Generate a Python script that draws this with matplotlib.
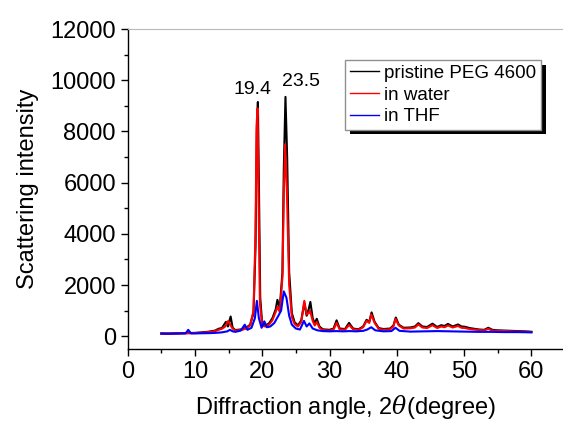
import matplotlib
matplotlib.use("Agg")
import matplotlib.pyplot as plt
from matplotlib.patches import Rectangle
from matplotlib.ticker import MultipleLocator

plt.rcParams["font.family"] = ["Liberation Sans", "DejaVu Sans"]
plt.rcParams["mathtext.fontset"] = "dejavuserif"

# pristine PEG 4600 (black)
angle_peg = [5.0, 6.0, 7.0, 8.0, 9.0, 10.0, 11.0, 12.0, 13.0, 13.5, 14.0, 14.6, 14.9, 15.3,
             15.6, 16.0, 17.0, 17.6, 18.2, 18.7, 19.0, 19.2, 19.35, 19.5, 19.7, 20.0, 20.5,
             21.0, 21.5, 22.0, 22.25, 22.6, 23.0, 23.2, 23.45, 23.7, 24.0, 24.4, 24.8, 25.3,
             25.8, 26.25, 26.6, 26.9, 27.15, 27.5, 27.8, 28.1, 28.5, 29.0, 30.0, 30.6, 31.05,
             31.5, 32.3, 32.9, 33.5, 34.3, 35.0, 35.5, 35.9, 36.25, 36.7, 37.3, 38.0, 39.0,
             39.5, 39.85, 40.3, 41.0, 42.0, 42.7, 43.2, 43.8, 44.5, 45.3, 46.0, 46.6, 47.1,
             47.6, 48.3, 49.1, 49.6, 50.1, 50.8, 51.5, 52.3, 53.0, 53.6, 54.2, 55.0, 56.0,
             57.0, 58.0, 59.0, 60.0]
int_peg = [110, 105, 115, 120, 125, 130, 150, 175, 220, 290, 320, 560, 380, 770,
           330, 240, 270, 330, 450, 900, 3500, 8000, 9150, 6000, 1500, 450, 420,
           500, 700, 1050, 1420, 1100, 2500, 6500, 9350, 7000, 2500, 900, 550, 420,
           620, 1300, 800, 1050, 1340, 700, 500, 680, 380, 270, 250, 300, 620,
           300, 280, 520, 300, 270, 380, 640, 560, 930, 560, 320, 280, 300,
           420, 730, 450, 330, 340, 380, 510, 380, 360, 490, 360, 430, 400,
           480, 380, 460, 380, 370, 320, 290, 260, 250, 330, 250, 230, 220,
           210, 200, 190, 175]

# in water (red)
angle_water = [5.0, 6.0, 7.0, 8.0, 9.0, 10.0, 11.0, 12.0, 13.0, 13.5, 14.0, 14.5, 14.95, 15.3,
               15.6, 16.0, 17.0, 17.6, 18.2, 18.7, 19.0, 19.15, 19.3, 19.45, 19.65, 20.0, 20.5,
               21.0, 21.5, 22.0, 22.25, 22.6, 23.0, 23.2, 23.4, 23.65, 24.0, 24.4, 24.8, 25.3,
               25.8, 26.25, 26.6, 26.9, 27.1, 27.5, 27.8, 28.1, 28.5, 29.0, 30.0, 30.6, 31.05,
               31.5, 32.3, 32.9, 33.5, 34.3, 35.0, 35.5, 35.9, 36.2, 36.7, 37.3, 38.0, 39.0,
               39.5, 39.8, 40.3, 41.0, 42.0, 42.7, 43.2, 43.8, 44.5, 45.3, 46.0, 46.6, 47.1,
               47.6, 48.3, 49.1, 49.6, 50.1, 50.8, 51.5, 52.3, 53.0, 53.6, 54.2, 55.0, 56.0,
               57.0, 58.0, 59.0, 60.0]
int_water = [100, 100, 105, 110, 115, 120, 135, 160, 200, 250, 290, 380, 600, 420,
             300, 220, 250, 300, 420, 1000, 4000, 8200, 8900, 5500, 1300, 400, 380,
             450, 620, 950, 1150, 950, 2300, 5500, 7500, 5800, 2000, 750, 480, 380,
             560, 1380, 850, 900, 1000, 600, 420, 560, 330, 240, 220, 260, 520,
             270, 250, 440, 270, 250, 350, 600, 520, 850, 520, 290, 250, 270,
             380, 680, 420, 300, 310, 340, 460, 340, 320, 430, 320, 380, 350,
             420, 340, 400, 330, 320, 280, 260, 240, 230, 290, 220, 210, 200,
             190, 180, 175, 160]

# in THF (blue)
angle_thf = [5.0, 6.0, 7.0, 8.0, 8.6, 9.0, 9.4, 10.0, 11.0, 12.0, 13.0, 14.0, 14.8, 15.2,
             15.6, 16.0, 16.8, 17.4, 17.8, 18.4, 18.9, 19.2, 19.5, 19.9, 20.3, 20.7, 21.2,
             21.8, 22.4, 22.8, 23.2, 23.6, 24.0, 24.4, 25.0, 25.6, 26.2, 26.6, 27.0, 27.5,
             28.2, 29.0, 30.0, 31.0, 32.0, 33.0, 34.0, 35.0, 35.6, 36.2, 36.8, 38.0, 39.2,
             39.8, 40.4, 42.0, 44.0, 46.0, 48.0, 50.0, 52.0, 54.0, 56.0, 58.0, 60.0]
int_thf = [100, 95, 100, 105, 110, 250, 110, 110, 115, 120, 130, 150, 190, 250,
           190, 170, 220, 450, 250, 330, 700, 1380, 700, 330, 580, 350, 380,
           520, 800, 1000, 1750, 1500, 800, 450, 300, 260, 600, 380, 500, 300,
           230, 200, 190, 200, 190, 200, 190, 210, 260, 350, 230, 190, 200,
           330, 210, 180, 190, 200, 190, 180, 170, 170, 160, 160, 150]

series = [
    (angle_peg, int_peg, "black", "pristine PEG 4600"),
    (angle_water, int_water, "#ff0000", "in water"),
    (angle_thf, int_thf, "#0000ff", "in THF"),
]

peak_labels = ["19.4", "23.5"]
peak_label_pos = [(18.5, 9650), (25.7, 9970)]


def main():
    fig = plt.figure(figsize=(5.63, 4.21), dpi=100)
    ax = fig.add_axes([0.2268, 0.171, 0.7732, 0.760])

    for x, y, c, lab in series:
        ax.plot(x, y, color=c, lw=1.5, label=lab)

    for txt, (px, py) in zip(peak_labels, peak_label_pos):
        ax.text(px, py, txt, ha="center", va="center", fontsize=14)

    ax.set_xlim(0, 64.7)
    ax.set_ylim(-500, 12000)
    ax.set_xticks(range(0, 61, 10))
    ax.set_yticks(range(0, 12001, 2000))
    ax.xaxis.set_minor_locator(MultipleLocator(5))
    ax.yaxis.set_minor_locator(MultipleLocator(1000))
    ax.tick_params(which="major", direction="out", length=5, width=1, labelsize=17)
    ax.tick_params(which="minor", direction="out", length=3, width=1)
    ax.tick_params(top=False, right=False)

    ax.spines["right"].set_visible(False)
    ax.spines["top"].set_color("#b8b8b8")
    ax.spines["left"].set_linewidth(1)
    ax.spines["bottom"].set_linewidth(1)

    ax.set_xlabel("Diffraction angle, 2$\\theta$(degree)", fontsize=17, labelpad=7)
    ax.set_ylabel("Scattering intensity", fontsize=17, labelpad=8)

    leg = ax.legend(loc="upper left", bbox_to_anchor=(0.613, 0.857),
                    bbox_transform=fig.transFigure, fontsize=13.5, fancybox=False,
                    framealpha=1, edgecolor="#909090", handlelength=1.55,
                    handletextpad=0.3, labelspacing=0.24, borderpad=0.25,
                    borderaxespad=0)
    leg.get_frame().set_linewidth(1)
    for h in leg.get_lines():
        h.set_linewidth(1)

    fig.canvas.draw()
    bb = leg.get_frame().get_window_extent(fig.canvas.get_renderer())
    inv = ax.transAxes.inverted()
    (x0, y0) = inv.transform((bb.x0 + 4.5, bb.y0 - 4.5))
    (x1, y1) = inv.transform((bb.x1 + 4.5, bb.y1 - 4.5))
    ax.add_patch(Rectangle((x0, y0), x1 - x0, y1 - y0, transform=ax.transAxes,
                           facecolor="black", edgecolor="none", zorder=4.9,
                           clip_on=False))

    fig.savefig("out.png", dpi=100)


if __name__ == "__main__":
    main()
